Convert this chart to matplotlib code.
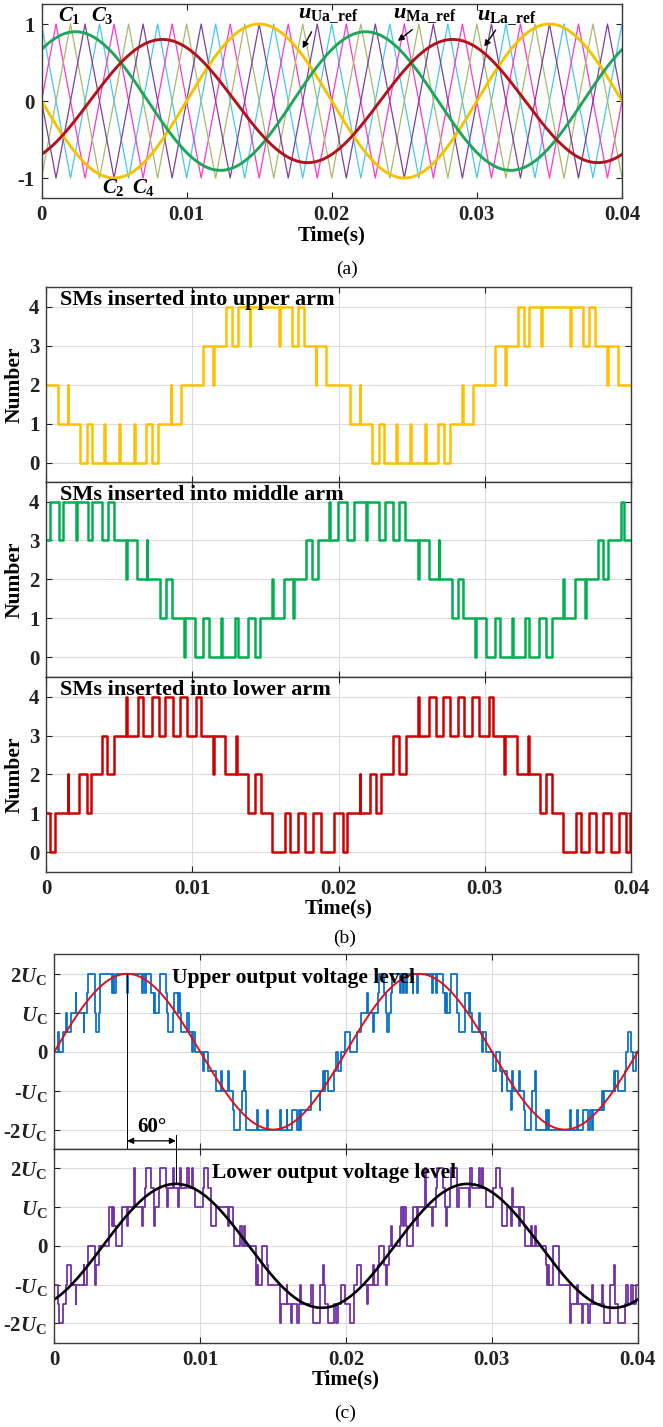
import numpy as np
import matplotlib
matplotlib.use('Agg')
import matplotlib.pyplot as plt

plt.rcParams['font.family'] = ['Liberation Serif', 'DejaVu Serif']
plt.rcParams['font.weight'] = 'bold'
plt.rcParams['mathtext.fontset'] = 'custom'
plt.rcParams['mathtext.rm'] = 'Liberation Serif:bold'
plt.rcParams['mathtext.it'] = 'Liberation Serif:italic:bold'
plt.rcParams['mathtext.bf'] = 'Liberation Serif:bold'

# ---------------- data ----------------
t_end = 0.04
time_ticks = [0, 0.01, 0.02, 0.03, 0.04]
time_labels = ['0', '0.01', '0.02', '0.03', '0.04']
f_grid = 50.0

# (a) phase-shifted triangular carriers: period and time of each first positive peak
carrier_period = 0.004
carrier_first_peak = [0.0, 0.001, 0.002, 0.003]
carrier_colors = ['#45c6f2', '#ff36c9', '#a9b86c', '#7b3f9f']

# (a) modulation references: amplitude (p.u.) and phase (deg)
ref_names = ['Ua', 'Ma', 'La']
ref_amp = [1.0, 0.9, 0.8]
ref_phase = [180, 48, -60]
ref_colors = ['#f4c200', '#1ea65a', '#b3121c']
ref_arrow_head_t = [0.0179, 0.0244, 0.0304]
ref_text_pos = [(0.0177, 1.12), (0.0242, 1.12), (0.0300, 1.09)]
ref_arrow_tail = [(0.0187, 0.93), (0.0257, 0.95), (0.0314, 0.95)]

# (b) number of inserted SMs: start level, then (switching time, new level)
upper_arm_start = 2
upper_arm = [
    (0.00082, 1), (0.00146, 2), (0.00152, 1), (0.00230, 0), (0.00276, 1), (0.00314, 0),
    (0.00396, 1), (0.00402, 0), (0.00499, 1), (0.00505, 0), (0.00599, 1), (0.00605, 0),
    (0.00681, 1), (0.00722, 0), (0.00765, 1), (0.00850, 2), (0.00856, 1), (0.00920, 2),
    (0.01073, 3), (0.01140, 2), (0.01146, 3), (0.01232, 4), (0.01270, 3), (0.01312, 4),
    (0.01391, 3), (0.01397, 4), (0.01592, 3), (0.01598, 4), (0.01680, 3), (0.01721, 4),
    (0.01760, 3), (0.01842, 2), (0.01848, 3), (0.01915, 2),
    (0.02075, 1), (0.02143, 2), (0.02149, 1), (0.02227, 0), (0.02273, 1), (0.02309, 0),
    (0.02393, 1), (0.02399, 0), (0.02489, 1), (0.02495, 0), (0.02592, 1), (0.02598, 0),
    (0.02678, 1), (0.02719, 0), (0.02762, 1), (0.02844, 2), (0.02850, 1), (0.02917, 2),
    (0.03070, 3), (0.03138, 2), (0.03144, 3), (0.03224, 4), (0.03265, 3), (0.03304, 4),
    (0.03386, 3), (0.03392, 4), (0.03586, 3), (0.03592, 4), (0.03675, 3), (0.03714, 4),
    (0.03753, 3), (0.03835, 2), (0.03841, 3), (0.03914, 2),
]

middle_arm_start = 3
middle_arm = [
    (0.00025, 4), (0.00089, 3), (0.00116, 4), (0.00201, 3), (0.00207, 4), (0.00287, 3),
    (0.00314, 4), (0.00378, 3), (0.00424, 4), (0.00465, 3), (0.00544, 2), (0.00550, 3),
    (0.00624, 2), (0.00686, 3), (0.00692, 2), (0.00781, 1), (0.00822, 2), (0.00861, 1),
    (0.00943, 0), (0.00949, 1), (0.01016, 0), (0.01073, 1), (0.01111, 0), (0.01193, 1),
    (0.01199, 0), (0.01289, 1), (0.01312, 0), (0.01380, 1), (0.01426, 0), (0.01460, 1),
    (0.01546, 2), (0.01552, 1), (0.01624, 2), (0.01687, 1), (0.01693, 2), (0.01774, 3),
    (0.01820, 2), (0.01858, 3), (0.01933, 4), (0.01944, 3), (0.01995, 4),
    (0.02056, 3), (0.02102, 4), (0.02188, 3), (0.02194, 4), (0.02279, 3), (0.02314, 4),
    (0.02370, 3), (0.02416, 4), (0.02457, 3), (0.02541, 2), (0.02547, 3), (0.02616, 2),
    (0.02684, 3), (0.02690, 2), (0.02776, 1), (0.02814, 2), (0.02853, 1), (0.02933, 0),
    (0.02939, 1), (0.03008, 0), (0.03072, 1), (0.03104, 0), (0.03186, 1), (0.03192, 0),
    (0.03277, 1), (0.03304, 0), (0.03372, 1), (0.03418, 0), (0.03459, 1), (0.03538, 2),
    (0.03544, 1), (0.03618, 2), (0.03686, 1), (0.03692, 2), (0.03771, 3), (0.03810, 2),
    (0.03846, 3), (0.03930, 4), (0.03953, 3),
]

lower_arm_start = 1
lower_arm = [
    (0.00025, 0), (0.00059, 1), (0.00146, 2), (0.00152, 1), (0.00225, 2), (0.00280, 1),
    (0.00303, 2), (0.00378, 3), (0.00412, 2), (0.00465, 3), (0.00544, 4), (0.00550, 3),
    (0.00629, 4), (0.00663, 3), (0.00720, 4), (0.00772, 3), (0.00815, 4), (0.00868, 3),
    (0.00913, 4), (0.00966, 3), (0.01027, 4), (0.01057, 3), (0.01141, 2), (0.01147, 3),
    (0.01225, 2), (0.01300, 3), (0.01306, 2), (0.01380, 1), (0.01426, 2), (0.01467, 1),
    (0.01546, 0), (0.01630, 1), (0.01665, 0), (0.01721, 1), (0.01772, 0), (0.01824, 1),
    (0.01876, 0), (0.01965, 1),
    (0.02029, 0), (0.02056, 1), (0.02143, 2), (0.02149, 1), (0.02216, 2), (0.02257, 1),
    (0.02291, 2), (0.02375, 3), (0.02411, 2), (0.02462, 3), (0.02541, 4), (0.02547, 3),
    (0.02621, 4), (0.02667, 3), (0.02712, 4), (0.02762, 3), (0.02814, 4), (0.02860, 3),
    (0.02912, 4), (0.02962, 3), (0.03026, 4), (0.03053, 3), (0.03133, 2), (0.03139, 3),
    (0.03217, 2), (0.03297, 3), (0.03303, 2), (0.03377, 1), (0.03418, 2), (0.03459, 1),
    (0.03538, 0), (0.03623, 1), (0.03657, 0), (0.03714, 1), (0.03760, 0), (0.03811, 1),
    (0.03866, 0), (0.03919, 1), (0.03964, 0), (0.03990, 1),
]

# (c) output voltage levels in units of U_C
upper_out_start = 0
upper_out = [
    (0.00025, 0.5), (0.00030, 0), (0.00059, 0.5), (0.00082, 1), (0.00089, 0.5), (0.00116, 1),
    (0.00146, 1.5), (0.00152, 1), (0.00201, 0.5), (0.00207, 1), (0.00225, 1.5), (0.00230, 2),
    (0.00276, 1.5), (0.00280, 1), (0.00287, 0.5), (0.00303, 1), (0.00314, 2), (0.00396, 1.5),
    (0.00402, 2), (0.00412, 1.5), (0.00424, 2), (0.00499, 1.5), (0.00505, 2), (0.00599, 1.5),
    (0.00605, 2), (0.00624, 1.5), (0.00629, 2), (0.00663, 1.5), (0.00681, 1), (0.00686, 1.5),
    (0.00692, 1), (0.00720, 1.5), (0.00722, 2), (0.00765, 1.5), (0.00772, 1), (0.00781, 0.5),
    (0.00815, 1), (0.00822, 1.5), (0.00850, 1), (0.00856, 1.5), (0.00861, 1), (0.00868, 0.5),
    (0.00913, 1), (0.00920, 0.5), (0.00943, 0), (0.00949, 0.5), (0.00966, 0), (0.01016, -0.5),
    (0.01027, 0), (0.01057, -0.5), (0.01111, -1), (0.01140, -0.5), (0.01147, -1),
    (0.01193, -0.5), (0.01199, -1), (0.01225, -1.5), (0.01232, -2), (0.01270, -1.5),
    (0.01289, -1), (0.01300, -0.5), (0.01306, -1), (0.01312, -2), (0.01391, -1.5),
    (0.01397, -2), (0.01460, -1.5), (0.01467, -2), (0.01546, -1.5), (0.01552, -2),
    (0.01592, -1.5), (0.01598, -2), (0.01630, -1.5), (0.01665, -2), (0.01680, -1.5),
    (0.01687, -2), (0.01693, -1.5), (0.01760, -1), (0.01820, -1.5), (0.01824, -1),
    (0.01842, -0.5), (0.01848, -1), (0.01858, -0.5), (0.01876, -1), (0.01915, -0.5),
    (0.01933, 0), (0.01944, -0.5), (0.01965, 0), (0.01995, 0.5), (0.02029, 0),
    (0.02075, 0.5), (0.02102, 1), (0.02143, 1.5), (0.02149, 1), (0.02188, 0.5), (0.02194, 1),
    (0.02216, 1.5), (0.02227, 2), (0.02257, 1.5), (0.02273, 1), (0.02279, 0.5), (0.02291, 1),
    (0.02309, 1.5), (0.02314, 2), (0.02370, 1.5), (0.02375, 2), (0.02393, 1.5), (0.02399, 2),
    (0.02411, 1.5), (0.02416, 2), (0.02457, 1.5), (0.02462, 2), (0.02489, 1.5), (0.02495, 2),
    (0.02592, 1.5), (0.02598, 2), (0.02616, 1.5), (0.02621, 2), (0.02667, 1.5), (0.02678, 1),
    (0.02684, 1.5), (0.02690, 1), (0.02712, 1.5), (0.02719, 2), (0.02762, 1), (0.02776, 0.5),
    (0.02814, 1.5), (0.02844, 1), (0.02850, 1.5), (0.02853, 1), (0.02860, 0.5), (0.02912, 1),
    (0.02917, 0.5), (0.02933, 0), (0.02939, 0.5), (0.02962, 0), (0.03008, -0.5), (0.03026, 0),
    (0.03053, -0.5), (0.03070, -1), (0.03072, -0.5), (0.03104, -1), (0.03133, -1.5),
    (0.03139, -0.5), (0.03144, -1), (0.03186, -0.5), (0.03192, -1), (0.03217, -1.5),
    (0.03224, -2), (0.03265, -1.5), (0.03277, -1), (0.03297, -0.5), (0.03303, -1),
    (0.03304, -2), (0.03372, -1.5), (0.03377, -2), (0.03386, -1.5), (0.03392, -2),
    (0.03538, -1.5), (0.03544, -2), (0.03586, -1.5), (0.03592, -2), (0.03623, -1.5),
    (0.03657, -2), (0.03675, -1.5), (0.03686, -2), (0.03692, -1.5), (0.03753, -1),
    (0.03760, -1.5), (0.03771, -1), (0.03835, -0.5), (0.03841, -1), (0.03846, -0.5),
    (0.03866, -1), (0.03914, -0.5), (0.03919, 0), (0.03930, 0.5), (0.03953, 0),
    (0.03964, -0.5), (0.03990, 0),
]

lower_out_start = -1
lower_out = [
    (0.00025, -1.5), (0.00030, -2), (0.00059, -1.5), (0.00082, -1), (0.00089, -0.5),
    (0.00116, -1), (0.00146, -1.5), (0.00152, -1), (0.00201, -0.5), (0.00207, -1),
    (0.00225, -0.5), (0.00230, 0), (0.00276, -0.5), (0.00280, -1), (0.00287, -0.5),
    (0.00303, 0), (0.00378, 1), (0.00396, 0.5), (0.00402, 1), (0.00412, 0.5), (0.00424, 0),
    (0.00465, 1), (0.00499, 0.5), (0.00505, 1), (0.00544, 2), (0.00550, 1), (0.00599, 0.5),
    (0.00605, 1), (0.00624, 1.5), (0.00629, 2), (0.00663, 1.5), (0.00681, 1), (0.00686, 0.5),
    (0.00692, 1), (0.00720, 1.5), (0.00722, 2), (0.00765, 1.5), (0.00772, 1), (0.00781, 1.5),
    (0.00815, 2), (0.00822, 1.5), (0.00850, 1), (0.00856, 1.5), (0.00861, 2), (0.00868, 1.5),
    (0.00913, 2), (0.00920, 1.5), (0.00943, 2), (0.00949, 1.5), (0.00966, 1), (0.01016, 1.5),
    (0.01027, 2), (0.01057, 1.5), (0.01073, 0.5), (0.01111, 1), (0.01193, 0.5), (0.01199, 1),
    (0.01225, 0.5), (0.01232, 0), (0.01270, 0.5), (0.01289, 0), (0.01300, 0.5), (0.01306, 0),
    (0.01380, -1), (0.01391, -0.5), (0.01397, -1), (0.01426, 0), (0.01460, -0.5),
    (0.01467, -1), (0.01546, -2), (0.01552, -1.5), (0.01592, -1), (0.01598, -1.5),
    (0.01624, -2), (0.01630, -1.5), (0.01665, -2), (0.01680, -1.5), (0.01687, -1),
    (0.01693, -1.5), (0.01760, -1), (0.01772, -2), (0.01820, -1.5), (0.01824, -1),
    (0.01842, -0.5), (0.01848, -1), (0.01858, -1.5), (0.01876, -2), (0.01915, -1.5),
    (0.01933, -2), (0.01944, -1.5), (0.01965, -1), (0.01995, -1.5), (0.02029, -2),
    (0.02056, -1), (0.02075, -0.5), (0.02102, -1), (0.02143, -1.5), (0.02149, -1),
    (0.02188, -0.5), (0.02194, -1), (0.02216, -0.5), (0.02227, 0), (0.02257, -0.5),
    (0.02273, -1), (0.02279, -0.5), (0.02291, 0), (0.02309, 0.5), (0.02314, 0), (0.02370, 0.5),
    (0.02375, 1), (0.02393, 0.5), (0.02399, 1), (0.02411, 0.5), (0.02416, 0), (0.02457, 0.5),
    (0.02462, 1), (0.02489, 0.5), (0.02495, 1), (0.02541, 2), (0.02547, 1), (0.02592, 0.5),
    (0.02598, 1), (0.02616, 1.5), (0.02621, 2), (0.02667, 1.5), (0.02678, 1), (0.02684, 0.5),
    (0.02690, 1), (0.02712, 1.5), (0.02719, 2), (0.02762, 1), (0.02776, 1.5), (0.02844, 1),
    (0.02850, 1.5), (0.02853, 2), (0.02860, 1.5), (0.02912, 2), (0.02917, 1.5), (0.02933, 2),
    (0.02939, 1.5), (0.02962, 1), (0.03008, 1.5), (0.03026, 2), (0.03053, 1.5), (0.03070, 1),
    (0.03072, 0.5), (0.03104, 1), (0.03133, 0.5), (0.03139, 1.5), (0.03144, 1), (0.03186, 0.5),
    (0.03192, 1), (0.03217, 0.5), (0.03224, 0), (0.03265, 0.5), (0.03277, 0), (0.03297, 0.5),
    (0.03303, 0), (0.03372, -0.5), (0.03377, -1), (0.03386, -0.5), (0.03392, -1), (0.03418, 0),
    (0.03459, -1), (0.03538, -2), (0.03544, -1.5), (0.03586, -1), (0.03592, -1.5),
    (0.03618, -2), (0.03623, -1.5), (0.03657, -2), (0.03675, -1.5), (0.03686, -1),
    (0.03692, -1.5), (0.03753, -1), (0.03760, -1.5), (0.03771, -2), (0.03811, -1),
    (0.03835, -0.5), (0.03841, -1), (0.03846, -1.5), (0.03866, -2), (0.03914, -1.5),
    (0.03919, -1), (0.03930, -1.5), (0.03953, -1), (0.03964, -1.5), (0.03990, -1),
]

# (c) fundamental references of the two outputs (amplitude in U_C, phase in deg)
out_ref_amp = [2.0, 1.6]
out_ref_phase = [0, -60]
out_ticks = [-2, -1, 0, 1, 2]
out_tick_labels = ['-2$U_\\mathrm{C}$', '-$U_\\mathrm{C}$', '0', '$U_\\mathrm{C}$', '2$U_\\mathrm{C}$']

# ---------------- helpers ----------------
t = np.linspace(0, t_end, 4001)
w = 2 * np.pi * f_grid


def sine(amp, phase_deg):
    return amp * np.sin(w * t + np.deg2rad(phase_deg))


def carrier(first_peak):
    half = carrier_period / 2
    k = np.arange(-2, int(t_end / half) + 3)
    tv = first_peak + k * half
    yv = np.where(k % 2 == 0, 1.0, -1.0)
    return tv, yv


def steps(ax, start, changes, color, lw):
    ts = [0.0] + [c[0] for c in changes] + [t_end]
    ys = [start] + [c[1] for c in changes]
    ys = ys + [ys[-1]]
    ax.plot(ts, ys, drawstyle='steps-post', color=color, lw=lw)


def style(ax, xlabels=True, grid=True):
    ax.set_xlim(0, t_end)
    ax.set_xticks(time_ticks)
    ax.tick_params(direction='in', top=True, right=True, length=4, width=0.8,
                   labelsize=15, pad=5, colors='#222222')
    if xlabels:
        ax.set_xticklabels(time_labels)
        ax.set_xlabel('Time(s)', fontsize=15, fontweight='bold', labelpad=0)
    else:
        ax.tick_params(labelbottom=False)
    if grid:
        ax.grid(True, color='#dcdcdc', lw=0.8)
        ax.set_axisbelow(True)
    for s in ax.spines.values():
        s.set_color('#3a3a3a')
        s.set_linewidth(1.0)


fig = plt.figure(figsize=(6.63, 14.27), dpi=100)

# ---------------- (a) ----------------
ax_a = fig.add_axes([0.0626, 0.8612, 0.8756, 0.1360])
for fp, c in zip(carrier_first_peak, carrier_colors):
    tv, yv = carrier(fp)
    ax_a.plot(tv, yv, color=c, lw=0.9)
ref_curves = []
for amp, ph, c in zip(ref_amp, ref_phase, ref_colors):
    y = sine(amp, ph)
    ref_curves.append(y)
    ax_a.plot(t, y, color=c, lw=2.1)
ax_a.set_ylim(-1.26, 1.26)
ax_a.set_yticks([-1, 0, 1])
ax_a.set_yticklabels(['-1', '0', '1'])
style(ax_a, grid=False)

for name, y, th, tp, tail in zip(ref_names, ref_curves, ref_arrow_head_t, ref_text_pos, ref_arrow_tail):
    yh = np.interp(th, t, y)
    ax_a.annotate('', xy=(th, yh + 0.04), xytext=tail,
                  arrowprops=dict(arrowstyle='-|>', color='black', lw=1.0, mutation_scale=9))
    ax_a.text(tp[0], tp[1], r'$u_{\mathrm{%s\_ref}}$' % name, fontsize=16, ha='left', va='center')

for lab, x, y in [('$C_1$', 0.00193, 1.11), ('$C_3$', 0.0042, 1.11),
                  ('$C_2$', 0.00497, -1.12), ('$C_4$', 0.00703, -1.12)]:
    ax_a.text(x, y, lab, fontsize=15, ha='center', va='center')

fig.text(347 / 663, 1 - 269 / 1427, '(a)', ha='center', va='center', fontsize=14, fontweight='normal')

# ---------------- (b) ----------------
b_left, b_width, b_h = 0.0698, 0.8819, 0.1364
arm_data = [(upper_arm_start, upper_arm, '#ffc000', 'SMs inserted into upper arm', 0.6622),
            (middle_arm_start, middle_arm, '#00b050', 'SMs inserted into middle arm', 0.5258),
            (lower_arm_start, lower_arm, '#cc0000', 'SMs inserted into lower arm', 0.3891)]
for i, (st, ch, col, title, y0) in enumerate(arm_data):
    ax = fig.add_axes([b_left, y0, b_width, b_h])
    steps(ax, st, ch, col, 1.8)
    ax.set_ylim(-0.5, 4.5)
    ax.set_yticks([0, 1, 2, 3, 4])
    style(ax, xlabels=(i == 2))
    ax.set_ylabel('Number', fontsize=15.5, fontweight='bold', labelpad=3)
    ax.text(0.023, 0.935, title, transform=ax.transAxes, fontsize=16,
            ha='left', va='center')

fig.text(345 / 663, 1 - 938 / 1427, '(b)', ha='center', va='center', fontsize=14, fontweight='normal')

# ---------------- (c) ----------------
c_left, c_width = 0.0819, 0.8801
ax_c1 = fig.add_axes([c_left, 0.1948, c_width, 0.1364])
ax_c2 = fig.add_axes([c_left, 0.0591, c_width, 0.1357])

steps(ax_c1, upper_out_start, upper_out, '#0a72c6', 1.3)
ax_c1.plot(t, sine(out_ref_amp[0], out_ref_phase[0]), color='#e0101a', lw=1.4)
steps(ax_c2, lower_out_start, lower_out, '#7232a6', 1.3)
ax_c2.plot(t, sine(out_ref_amp[1], out_ref_phase[1]), color='black', lw=1.9)

for ax, xl in [(ax_c1, False), (ax_c2, True)]:
    ax.set_ylim(-2.5, 2.5)
    ax.set_yticks(out_ticks)
    ax.set_yticklabels(out_tick_labels)
    style(ax, xlabels=xl)
ax_c1.text((171.7 - 54.3) / 583.5, 0.878, 'Upper output voltage level',
           transform=ax_c1.transAxes, fontsize=15.5, ha='left', va='center')
ax_c2.text((211.7 - 54.3) / 583.5, 0.875, 'Lower output voltage level',
           transform=ax_c2.transAxes, fontsize=15.5, ha='left', va='center')

# 60 degree shift between the two output references
t_pk1 = (90 - out_ref_phase[0]) / 360 / f_grid
t_pk2 = (90 - out_ref_phase[1]) / 360 / f_grid
ax_c1.plot([t_pk1, t_pk1], [out_ref_amp[0], -2.5], color='black', lw=0.7)
ax_c1.plot([t_pk2, t_pk2], [-2.14, -2.5], color='black', lw=0.7, clip_on=False)
ax_c2.plot([t_pk2, t_pk2], [out_ref_amp[1], 2.5], color='black', lw=0.7, clip_on=False)
ax_c1.annotate('', xy=(t_pk1, -2.29), xytext=(t_pk2, -2.29),
               arrowprops=dict(arrowstyle='<|-|>', color='black', lw=0.9, mutation_scale=9,
                               shrinkA=0, shrinkB=0))
ax_c1.text((t_pk1 + t_pk2) / 2, -1.93, '60°', fontsize=15, ha='center', va='center')

fig.text(345 / 663, 1 - 1413 / 1427, '(c)', ha='center', va='center', fontsize=14, fontweight='normal')

fig.savefig('out.png', dpi=100)
